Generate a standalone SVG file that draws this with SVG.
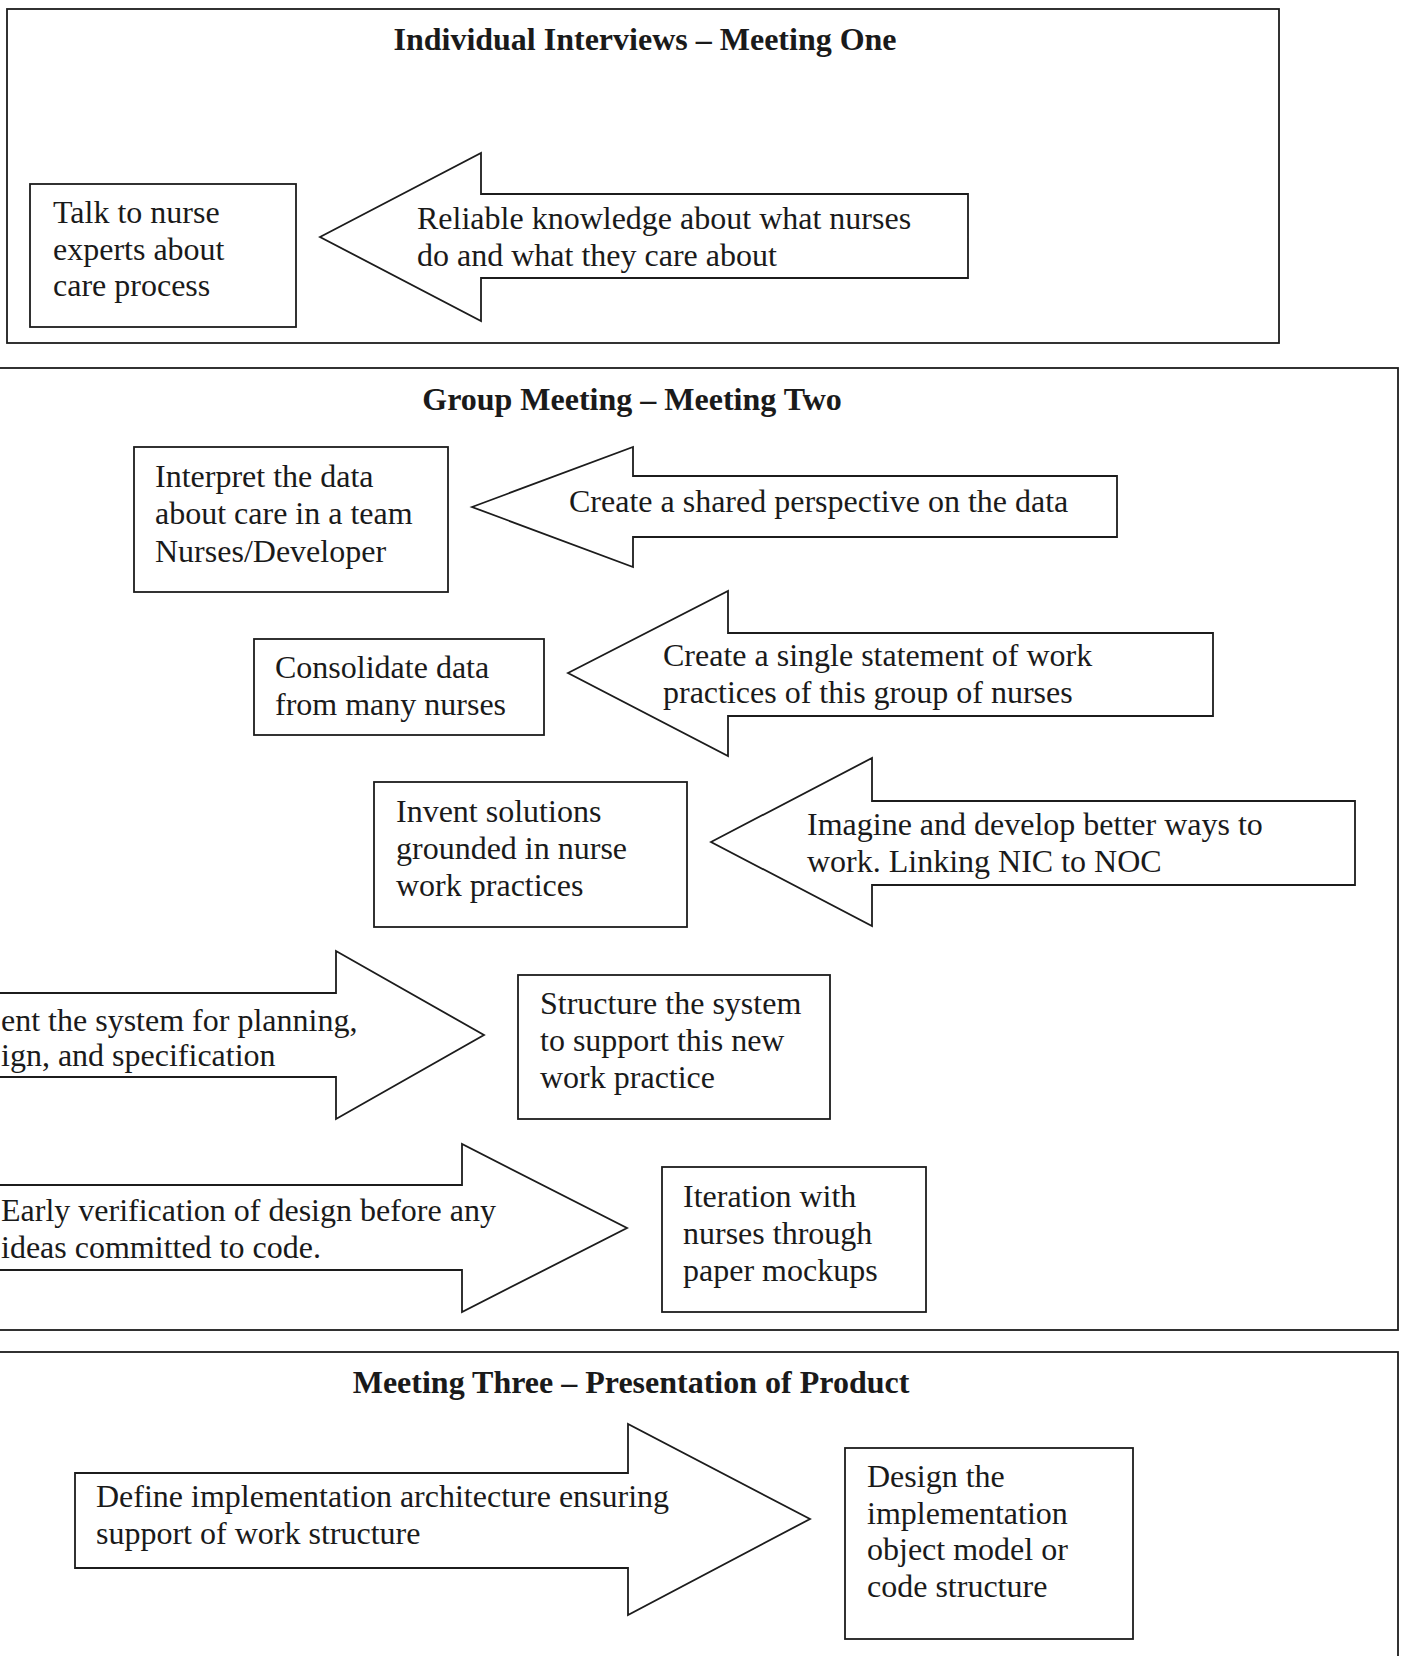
<svg xmlns="http://www.w3.org/2000/svg" width="1405" height="1656" viewBox="0 0 1405 1656">
  <style>
    .frame { fill: none; stroke: #1c1c1c; stroke-width: 1.8; }
    .node { fill: #ffffff; stroke: #1c1c1c; stroke-width: 1.8; }
    .arrow { fill: #ffffff; stroke: #1c1c1c; stroke-width: 1.8; stroke-linejoin: miter; }
    .title { font-family: "Liberation Serif", "Times New Roman", serif; font-size: 32px; font-weight: bold; fill: #1a1a1a; text-anchor: middle; }
    .txt { font-family: "Liberation Serif", "Times New Roman", serif; font-size: 32px; fill: #1a1a1a; }
  </style>
  <rect width="1405" height="1656" fill="#ffffff"/>

  <!-- Meeting frames -->
  <g id="meeting-one">
    <rect class="frame" x="7" y="9" width="1272" height="334"/>
    <text class="title" x="645" y="50">Individual Interviews – Meeting One</text>
  </g>
  <g id="meeting-two">
    <rect class="frame" x="-10" y="368" width="1408" height="962"/>
    <text class="title" x="632" y="410">Group Meeting – Meeting Two</text>
  </g>
  <g id="meeting-three">
    <rect class="frame" x="-10" y="1352" width="1408" height="330"/>
    <text class="title" x="631" y="1393">Meeting Three – Presentation of Product</text>
  </g>

  <!-- Activity boxes -->
  <g id="talk-to-nurse">
    <rect class="node" x="30" y="184" width="266" height="143"/>
    <text class="txt"><tspan x="53" y="223">Talk to nurse</tspan><tspan x="53" y="260">experts about</tspan><tspan x="53" y="296">care process</tspan></text>
  </g>
  <g id="interpret-data">
    <rect class="node" x="134" y="447" width="314" height="145"/>
    <text class="txt"><tspan x="155" y="487">Interpret the data</tspan><tspan x="155" y="524">about care in a team</tspan><tspan x="155" y="562">Nurses/Developer</tspan></text>
  </g>
  <g id="consolidate-data">
    <rect class="node" x="254" y="639" width="290" height="96"/>
    <text class="txt"><tspan x="275" y="678">Consolidate data</tspan><tspan x="275" y="715">from many nurses</tspan></text>
  </g>
  <g id="invent-solutions">
    <rect class="node" x="374" y="782" width="313" height="145"/>
    <text class="txt"><tspan x="396" y="822">Invent solutions</tspan><tspan x="396" y="859">grounded in nurse</tspan><tspan x="396" y="896">work practices</tspan></text>
  </g>
  <g id="structure-system">
    <rect class="node" x="518" y="975" width="312" height="144"/>
    <text class="txt"><tspan x="540" y="1014">Structure the system</tspan><tspan x="540" y="1051">to support this new</tspan><tspan x="540" y="1088">work practice</tspan></text>
  </g>
  <g id="iteration-mockups">
    <rect class="node" x="662" y="1167" width="264" height="145"/>
    <text class="txt"><tspan x="683" y="1207">Iteration with</tspan><tspan x="683" y="1244">nurses through</tspan><tspan x="683" y="1281">paper mockups</tspan></text>
  </g>
  <g id="design-object-model">
    <rect class="node" x="845" y="1448" width="288" height="191"/>
    <text class="txt"><tspan x="867" y="1487">Design the</tspan><tspan x="867" y="1524">implementation</tspan><tspan x="867" y="1560">object model or</tspan><tspan x="867" y="1597">code structure</tspan></text>
  </g>

  <!-- Block arrows carrying the outcome of each step -->
  <g id="connectors">
    <g id="arrow-reliable-knowledge">
      <polygon class="arrow" points="320,237 481,153 481,194 968,194 968,278 481,278 481,321"/>
      <text class="txt"><tspan x="417" y="229">Reliable knowledge about what nurses</tspan><tspan x="417" y="266">do and what they care about</tspan></text>
    </g>
    <g id="arrow-shared-perspective">
      <polygon class="arrow" points="472,507 633,447 633,476 1117,476 1117,537 633,537 633,567"/>
      <text class="txt" x="569" y="512">Create a shared perspective on the data</text>
    </g>
    <g id="arrow-single-statement">
      <polygon class="arrow" points="568,673 728,591 728,633 1213,633 1213,716 728,716 728,756"/>
      <text class="txt"><tspan x="663" y="666">Create a single statement of work</tspan><tspan x="663" y="703">practices of this group of nurses</tspan></text>
    </g>
    <g id="arrow-better-ways">
      <polygon class="arrow" points="711,842 872,758 872,801 1355,801 1355,885 872,885 872,926"/>
      <text class="txt"><tspan x="807" y="835">Imagine and develop better ways to</tspan><tspan x="807" y="872">work. Linking NIC to NOC</tspan></text>
    </g>
    <g id="arrow-planning">
      <polygon class="arrow" points="-10,993 336,993 336,951 484,1035 336,1119 336,1077 -10,1077"/>
      <text class="txt"><tspan x="1" y="1031">ent the system for planning,</tspan><tspan x="1" y="1066">ign, and specification</tspan></text>
    </g>
    <g id="arrow-early-verification">
      <polygon class="arrow" points="-10,1185 462,1185 462,1144 627,1228 462,1312 462,1270 -10,1270"/>
      <text class="txt"><tspan x="1" y="1221">Early verification of design before any</tspan><tspan x="1" y="1258">ideas committed to code.</tspan></text>
    </g>
    <g id="arrow-architecture">
      <polygon class="arrow" points="75,1473 628,1473 628,1424 810,1519 628,1615 628,1568 75,1568"/>
      <text class="txt"><tspan x="96" y="1507">Define implementation architecture ensuring</tspan><tspan x="96" y="1544">support of work structure</tspan></text>
    </g>
  </g>
</svg>
